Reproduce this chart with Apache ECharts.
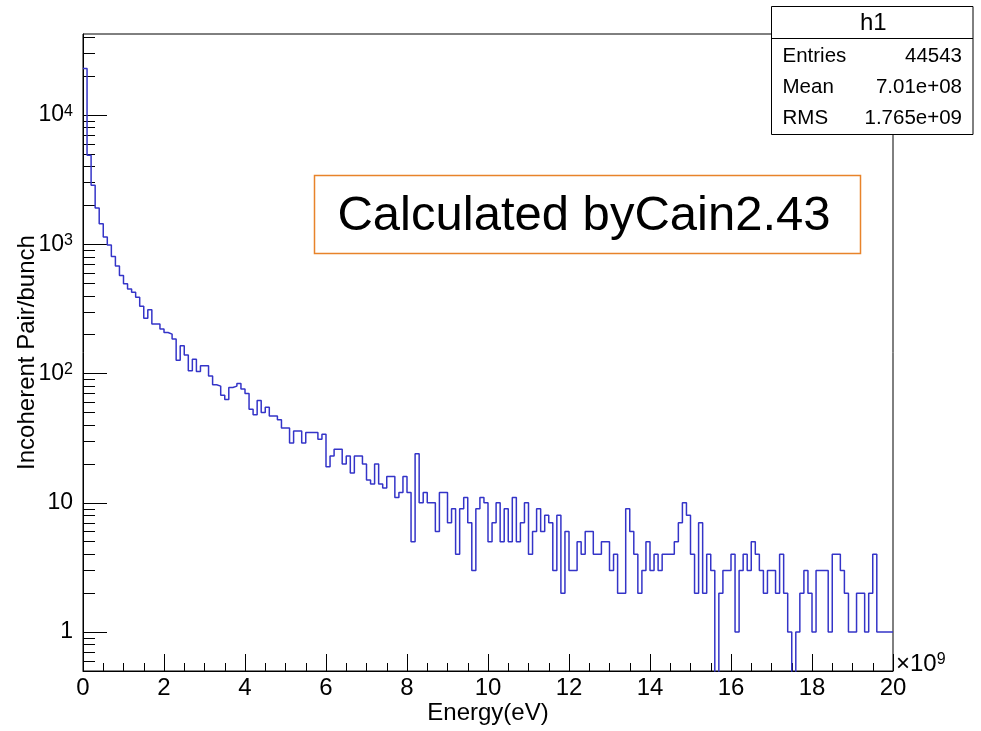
<!DOCTYPE html>
<html>
<head>
<meta charset="utf-8">
<script src="https://cdn.jsdelivr.net/npm/echarts@6/dist/echarts.min.js"></script>
<style>
html,body{margin:0;padding:0;background:#fff;}
#c{width:981px;height:731px;}
</style>
</head>
<body>
<div id="c"></div>
<script>
// ---- data ----
const xRange = [0, 20];          // in units of 1e9 eV
const nBins = 200;
const yRange = [0.5, 42400];
const xTickLabels = ['0','2','4','6','8','10','12','14','16','18','20'];
const yTickLabels = {1:'1', 10:'10', 100:'10{s|2}', 1000:'10{s|3}', 10000:'10{s|4}'};
const counts = [
22900,4880,2860,1910,1440,1140,990,805,680,575,
495,452,426,390,332,268,312,242,242,221,
208,202,185,127,164,139,105,129,104,115,
115,96,82,80,68,63,78,80,84,76,
70,53,48,62,50,55,47,47,44,38,
38,29,36,36,29,35,35,35,31,34,
19,23,26,26,20,23,17,23,23,20,
15,14,20,14,13,16,16,11,12,16,
12,5,24,10,12,10,10,6,12,12,
7,9,4,9,11,7,3,9,11,10,
5,7,10,5,9,5,11,5,7,10,
4,6,9,6,8,7,3,8,2,6,
3,3,5,4,6,6,4,4,5,5,
3,4,2,2,9,6,4,2,3,5,
3,4,3,4,4,4,5,7,10,8,
4,2,7,2,4,3,0,2,3,3,
4,1,3,4,3,5,4,3,2,3,
3,2,4,2,1,0,1,2,3,2,
1,3,3,3,1,4,4,3,2,1,
1,2,2,1,2,4,1,1,1,1
];
const statsTitle = 'h1';
const statsRows = [['Entries','44543'],['Mean','7.01e+08'],['RMS','1.765e+09']];
const noteText = 'Calculated byCain2.43';
const xName = 'Energy(eV)';
const yName = 'Incoherent Pair/bunch';

// ---- build ----
const binW = (xRange[1]-xRange[0])/nBins;
const floorVal = 0.05; // empty bins drop below the frame (clipped)
const histData = counts.map((c,i)=>[xRange[0]+i*binW, c>0?c:floorVal]);
histData.push([xRange[1], counts[nBins-1]>0?counts[nBins-1]:floorVal]);

const minorLogs = [];
for (let n=-1;n<=4;n++){
  for (let k=2;k<=9;k++){
    const v = k*Math.pow(10,n);
    if (v>yRange[0] && v<yRange[1]) minorLogs.push(Math.log10(v));
  }
}

const FONT = 'Liberation Sans, Arial, Helvetica, sans-serif';
const chart = echarts.init(document.getElementById('c'), null, {renderer:'canvas'});

const stX = 771.5, stY = 6.5, stW = 201.5, stH = 128, stHead = 32;
const graphics = [
  {type:'rect', z:100, shape:{x:stX,y:stY,width:stW,height:stH}, style:{fill:'#fff',stroke:'#000',lineWidth:1}},
  {type:'line', z:101, shape:{x1:stX,y1:stY+stHead,x2:stX+stW,y2:stY+stHead}, style:{stroke:'#000',lineWidth:1}},
  {type:'text', z:102, x:stX+stW/2+1, y:stY+stHead/2+1, style:{text:statsTitle, fill:'#000', font:'24px '+FONT, align:'center', verticalAlign:'middle'}}
];
statsRows.forEach((r,i)=>{
  const cy = stY+stHead+18+i*31;
  graphics.push({type:'text', z:102, x:stX+11, y:cy, style:{text:r[0], fill:'#000', font:'20.5px '+FONT, align:'left', verticalAlign:'middle'}});
  graphics.push({type:'text', z:102, x:stX+stW-11, y:cy, style:{text:r[1], fill:'#000', font:'20.5px '+FONT, align:'right', verticalAlign:'middle'}});
});
graphics.push({type:'rect', z:100, shape:{x:314.5,y:175.5,width:546,height:78}, style:{fill:'#fff',stroke:'#e8832a',lineWidth:1.5}});
graphics.push({type:'text', z:102, x:584, y:216, style:{text:noteText, fill:'#000', font:'49px '+FONT, align:'center', verticalAlign:'middle'}});
graphics.push({type:'text', z:102, x:896, y:664, style:{text:'×10{s|9}', fill:'#000', font:'24px '+FONT, align:'left', verticalAlign:'middle', rich:{s:{fontSize:16, fontFamily:FONT, verticalAlign:'top', padding:[0,0,4,0], fill:'#000'}}}});

const option = {
  animation:false,
  backgroundColor:'#fff',
  grid:{left:83, right:88, top:34, bottom:60, show:true, borderColor:'#000', borderWidth:1, backgroundColor:'transparent', containLabel:false, outerBoundsMode:'none'},
  xAxis:{
    type:'value', min:xRange[0], max:xRange[1], interval:2,
    axisLine:{show:true, onZero:false, lineStyle:{color:'#000', width:1}},
    axisTick:{show:true, inside:true, length:17, lineStyle:{color:'#000', width:1}},
    minorTick:{show:true, splitNumber:4, length:8, lineStyle:{color:'#000', width:1}},
    axisLabel:{color:'#000', fontSize:24, fontFamily:FONT, margin:5,
      formatter:(v)=>xTickLabels[Math.round(v/2)]},
    splitLine:{show:false}, minorSplitLine:{show:false},
    name:xName, nameLocation:'middle', nameGap:30, nameMoveOverlap:false,
    nameTextStyle:{color:'#000', fontSize:24, fontFamily:FONT}
  },
  yAxis:[{
    type:'log', logBase:10, min:yRange[0], max:yRange[1], position:'left',
    axisLine:{show:true, lineStyle:{color:'#000', width:1}},
    axisTick:{show:true, inside:true, length:24, lineStyle:{color:'#000', width:1}},
    axisLabel:{color:'#000', fontSize:23, fontFamily:FONT, margin:10, showMinLabel:false, showMaxLabel:false,
      formatter:(v)=>{const k=Math.round(v); return yTickLabels[k]!==undefined?yTickLabels[k]:'';},
      rich:{s:{fontSize:16, fontFamily:FONT, color:'#000', verticalAlign:'top', padding:[0,0,4,0]}}},
    splitLine:{show:false},
    name:yName, nameLocation:'middle', nameGap:44, nameRotate:90, nameMoveOverlap:false,
    nameTextStyle:{color:'#000', fontSize:24, fontFamily:FONT}
  },{
    type:'value', min:Math.log10(yRange[0]), max:Math.log10(yRange[1]), position:'left',
    axisLine:{show:false}, axisLabel:{show:false}, splitLine:{show:false},
    axisTick:{show:true, inside:true, length:12, customValues:minorLogs, lineStyle:{color:'#000', width:1}}
  }],
  series:[{
    type:'line', step:'end', data:histData, yAxisIndex:0, symbol:'none', clip:true,
    lineStyle:{color:'#3434c8', width:1.5}, z:5
  }],
  graphic:graphics
};
chart.setOption(option);
</script>
</body>
</html>
